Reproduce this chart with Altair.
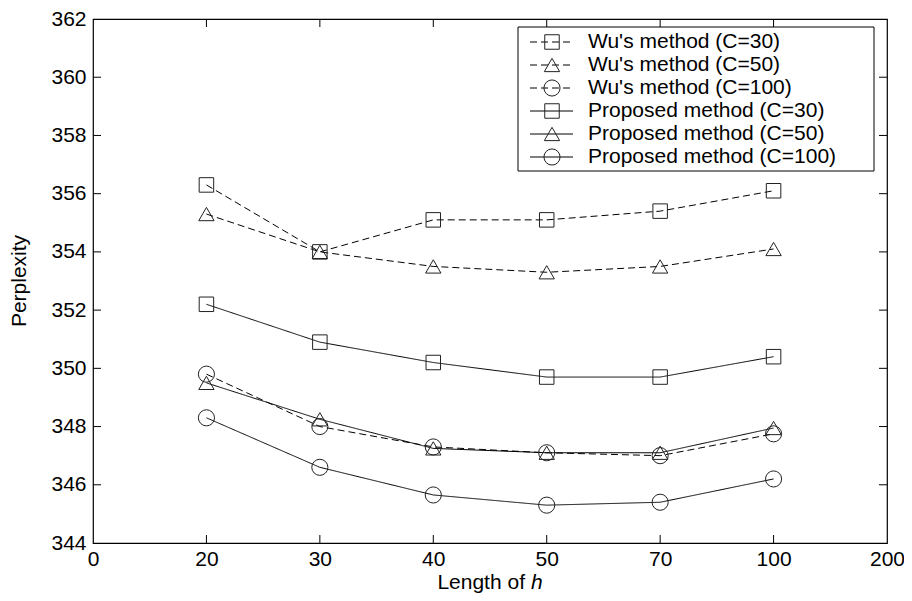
import altair as alt
import pandas as pd

# ---- data ----
x_labels = ["0", "20", "30", "40", "50", "70", "100", "200"]
h_values = ["20", "30", "40", "50", "70", "100"]
y_ticks = [344, 346, 348, 350, 352, 354, 356, 358, 360, 362]

series_names = [
    "Wu's method (C=30)",
    "Wu's method (C=50)",
    "Wu's method (C=100)",
    "Proposed method (C=30)",
    "Proposed method (C=50)",
    "Proposed method (C=100)",
]
series_method = ["Wu", "Wu", "Wu", "Proposed", "Proposed", "Proposed"]
series_c = ["30", "50", "100", "30", "50", "100"]

wu_c30 = [356.3, 354.0, 355.1, 355.1, 355.4, 356.1]
wu_c50 = [355.3, 354.0, 353.5, 353.3, 353.5, 354.1]
wu_c100 = [349.8, 348.0, 347.3, 347.1, 347.0, 347.75]
prop_c30 = [352.2, 350.9, 350.2, 349.7, 349.7, 350.4]
prop_c50 = [349.5, 348.25, 347.25, 347.1, 347.1, 347.95]
prop_c100 = [348.3, 346.6, 345.65, 345.3, 345.4, 346.2]

series_values = [wu_c30, wu_c50, wu_c100, prop_c30, prop_c50, prop_c100]

# ---- tables ----
rows = []
for name, meth, c, vals in zip(series_names, series_method, series_c, series_values):
    for h, v in zip(h_values, vals):
        rows.append({"series": name, "method": meth, "C": c,
                     "pos": x_labels.index(h), "h": h, "value": v})
df = pd.DataFrame(rows)

legend_df = pd.DataFrame({
    "series": series_names,
    "method": series_method,
    "C": series_c,
    "row": list(range(len(series_names))),
})

# layout (absolute page pixels of the plot frame)
PL, PT = 93, 19
W, H = 794, 524
FONT = "Liberation Sans"
FS = 21
TICK = 8

xscale = alt.Scale(domain=[0, len(x_labels) - 1], nice=False, zero=False)
yscale = alt.Scale(domain=[y_ticks[0], y_ticks[-1]], nice=False, zero=False)
dash_scale = alt.Scale(domain=["Wu", "Proposed"], range=[[7, 4], [1, 0]])
shape_scale = alt.Scale(domain=["30", "50", "100"], range=["square", "triangle-up", "circle"])
size_scale = alt.Scale(domain=["30", "50", "100"], range=[210, 260, 200])

label_expr = "[" + ",".join("'%s'" % l for l in x_labels) + "][datum.value]"

x_axis = alt.Axis(values=list(range(len(x_labels))), labelExpr=label_expr, ticks=False,
                  domain=False, grid=False, labelFont=FONT, labelFontSize=FS,
                  labelColor="black", labelPadding=5, labelFlush=False,
                  labelOverlap=False, title=None)
y_axis = alt.Axis(values=y_ticks, format="d", ticks=False, domain=False, grid=False,
                  labelFont=FONT, labelFontSize=FS, labelColor="black",
                  labelPadding=7, labelOverlap=False, labelFlush=False, title=None)

X = alt.X("pos:Q", scale=xscale, axis=x_axis)

base = alt.Chart(df)

lines = base.mark_line(color="black", strokeWidth=1).encode(
    x=X,
    y=alt.Y("value:Q", scale=yscale, axis=y_axis),
    detail="series:N",
    strokeDash=alt.StrokeDash("method:N", scale=dash_scale, legend=None),
)

points = base.mark_point(filled=False, color="#222", strokeWidth=1, opacity=1).encode(
    x=X,
    y=alt.Y("value:Q", scale=yscale, axis=None),
    shape=alt.Shape("C:N", scale=shape_scale, legend=None),
    size=alt.Size("C:N", scale=size_scale, legend=None),
)

# inward tick marks on all four sides
xt = pd.DataFrame({"pos": list(range(1, len(x_labels) - 1))})
yt = pd.DataFrame({"value": y_ticks[1:-1]})
tick_bottom = alt.Chart(xt).mark_tick(color="black", thickness=1, size=TICK, opacity=1).encode(
    x=X, y=alt.value(H - TICK / 2))
tick_top = alt.Chart(xt).mark_tick(color="black", thickness=1, size=TICK, opacity=1).encode(
    x=X, y=alt.value(TICK / 2))
tick_left = alt.Chart(yt).mark_tick(color="black", thickness=1, size=TICK, opacity=1).encode(
    y=alt.Y("value:Q", scale=yscale, axis=None), x=alt.value(TICK / 2))
tick_right = alt.Chart(yt).mark_tick(color="black", thickness=1, size=TICK, opacity=1).encode(
    y=alt.Y("value:Q", scale=yscale, axis=None), x=alt.value(W - TICK / 2))

# legend (drawn manually so the line passes through the marker)
LX0, LX1 = 518 - PL, 874 - PL
LY0, LY1 = 27 - PT, 171 - PT
row_scale = alt.Scale(domain=[0, len(series_names) - 1],
                      range=[42 - PT, 157 - PT], nice=False, zero=False)

legend_box = alt.Chart(pd.DataFrame({"k": [0]})).mark_rect(
    fill="white", stroke="black", strokeWidth=1).encode(
    x=alt.value(LX0), x2=alt.value(LX1), y=alt.value(LY0), y2=alt.value(LY1))

lg = alt.Chart(legend_df)
legend_lines = lg.mark_rule(color="black", strokeWidth=1).encode(
    x=alt.value(530 - PL), x2=alt.value(573 - PL),
    y=alt.Y("row:Q", scale=row_scale, axis=None),
    strokeDash=alt.StrokeDash("method:N", scale=dash_scale, legend=None),
)
legend_points = lg.mark_point(filled=False, color="#222", strokeWidth=1, opacity=1).encode(
    x=alt.value(552 - PL),
    y=alt.Y("row:Q", scale=row_scale, axis=None),
    shape=alt.Shape("C:N", scale=shape_scale, legend=None),
    size=alt.Size("C:N", scale=size_scale, legend=None),
)
legend_text = lg.mark_text(align="left", baseline="middle", font=FONT, fontSize=FS,
                           color="black").encode(
    x=alt.value(588 - PL),
    y=alt.Y("row:Q", scale=row_scale, axis=None),
    text="series:N",
)

# axis titles
one = pd.DataFrame({"k": [0]})
xtitle_a = alt.Chart(one).mark_text(align="right", baseline="middle", font=FONT,
                                     fontSize=FS, color="black", text="Length of").encode(
    x=alt.value(W / 2 + 35), y=alt.value(583 - PT))
xtitle_b = alt.Chart(one).mark_text(align="left", baseline="middle", font=FONT,
                                     fontSize=FS, fontStyle="italic", color="black",
                                     text="h").encode(
    x=alt.value(W / 2 + 41), y=alt.value(583 - PT))
ytitle = alt.Chart(one).mark_text(align="center", baseline="middle", font=FONT,
                                   fontSize=FS, color="black", angle=270,
                                   text="Perplexity").encode(
    x=alt.value(20 - PL), y=alt.value(H / 2))

chart = alt.layer(
    lines, points,
    tick_bottom, tick_top, tick_left, tick_right,
    legend_box, legend_lines, legend_points, legend_text,
    xtitle_a, xtitle_b, ytitle,
).resolve_scale(y="independent").properties(
    width=W, height=H,
    autosize=alt.AutoSizeParams(type="none"),
    padding={"left": PL - 8, "top": PT - 8, "right": 17, "bottom": 50},
    background="white",
).configure_view(stroke="black", strokeWidth=1.2)

chart.save("out.html", embed_options={"renderer": "svg", "actions": False})
